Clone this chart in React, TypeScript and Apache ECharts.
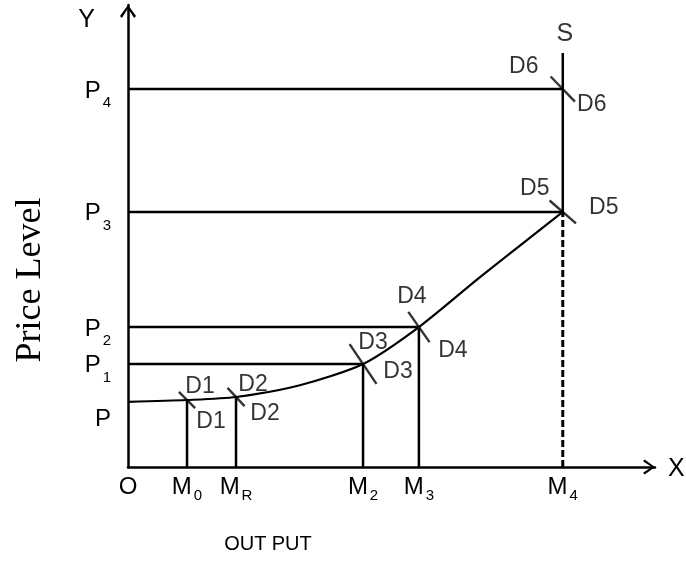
import React, { useEffect, useRef } from 'react';
import * as echarts from 'echarts';

// ---- data (axis units: x 0..100 output, y 0..100 price level) ----
const outputLabels = ['O', 'M0', 'MR', 'M2', 'M3', 'M4'];
const outputValues = [0, 11.2, 20.5, 44.6, 55.2, 82.5];
const priceLabels = ['P', 'P1', 'P2', 'P3', 'P4'];
const priceValues = [14.1, 22.3, 30.3, 55.2, 81.8];
const curveX = [0, 11.2, 20.5, 32.6, 44.6, 55.2, 66.8, 82.5];
const curveY = [14.1, 14.5, 15.15, 17.7, 22.3, 30.3, 41.1, 55.2];
const demandNames = ['D1', 'D2', 'D3', 'D4', 'D5', 'D6'];
const demandX = [11.2, 20.5, 44.6, 55.2, 82.5, 82.5];
const demandY = [14.5, 15.15, 22.3, 30.3, 55.2, 81.8];
const supplyTop = 89.6;

// ---- styles ----
const tickLen = [23, 25, 48, 37, 35, 35];
const tickAngle = [45, 43, 34, 35, 49, 44];
const labelOffsetA = [[13, -15], [17, -14], [10, -23], [-7, -32], [-28, -25], [-39, -24]];
const labelOffsetB = [[24, 20], [29, 15], [35, 6], [34, 22], [41, -6], [29, 14]];
const FONT = 'Liberation Sans';
const chevron = 'path://M8,0 L16,11 L14.2,12.8 L8,3.5 L1.8,12.8 L0,11 Z';

export default function App() {
  const ref = useRef<HTMLDivElement>(null);
  useEffect(() => {
    if (!ref.current) return;
    const chart = echarts.init(ref.current, null, { renderer: 'svg' });
    const lineBase: any = {
      type: 'line', showSymbol: false, symbol: 'none', silent: true, z: 2,
      lineStyle: { color: '#000', width: 2.5 },
    };
    const horizontals = [2, 3, 4, 5].map((i) => ({
      ...lineBase,
      data: [[0, demandY[i]], [demandX[i], demandY[i]]],
    }));
    const verticals = [0, 1, 2, 3].map((i) => ({
      ...lineBase,
      data: [[demandX[i], 0], [demandX[i], demandY[i]]],
    }));
    const option: any = {
      animation: false,
      textStyle: { fontFamily: FONT, color: '#000' },
      grid: { left: 128, right: 31, top: 5, bottom: 94, containLabel: false, outerBoundsMode: 'none' },
      xAxis: {
        type: 'value', min: 0, max: 100,
        axisLine: {
          show: true, onZero: false,
          lineStyle: { color: '#000', width: 2.5 },
          symbol: ['none', chevron], symbolSize: [18, 12], symbolOffset: [0, -6],
        },
        axisTick: { show: false },
        splitLine: { show: false },
        axisLabel: {
          customValues: outputValues,
          margin: 6,
          formatter: (val: number) => {
            const i = outputValues.findIndex((v) => Math.abs(v - val) < 1e-6);
            const lab = outputLabels[i] ?? '';
            if (lab.length === 1) return `{m|${lab}}`;
            return `{m|${lab[0]}}{s|${lab.slice(1)}}`;
          },
          rich: {
            m: { fontSize: 24, lineHeight: 24, padding: [0, 0, 6, 0], verticalAlign: 'top', fontFamily: FONT, color: '#000' },
            s: { fontSize: 15, lineHeight: 15, padding: [14, 0, 0, 2], verticalAlign: 'top', fontFamily: FONT, color: '#000' },
          },
        },
        name: 'X', nameLocation: 'end', nameGap: 13,
        nameTextStyle: { fontSize: 25, fontFamily: FONT, color: '#000', padding: [6, 0, 0, 0] },
      },
      yAxis: {
        type: 'value', min: 0, max: 100,
        axisLine: {
          show: true, onZero: false,
          lineStyle: { color: '#000', width: 2.5 },
          symbol: ['none', chevron], symbolSize: [16, 13], symbolOffset: [0, -6.5],
        },
        axisTick: { show: false },
        splitLine: { show: false },
        axisLabel: {
          customValues: priceValues,
          margin: 17,
          formatter: (val: number) => {
            const i = priceValues.findIndex((v) => Math.abs(v - val) < 1e-6);
            const lab = priceLabels[i] ?? '';
            if (lab.length === 1) return `{pp|${lab}}`;
            return `{p|${lab[0]}}{s|${lab.slice(1)}}`;
          },
          rich: {
            p: { fontSize: 24, lineHeight: 24, padding: [0, 0, 14, 0], verticalAlign: 'top', fontFamily: FONT, color: '#000' },
            pp: { fontSize: 24, lineHeight: 24, padding: [16, 0, 0, 0], verticalAlign: 'top', fontFamily: FONT, color: '#000' },
            s: { fontSize: 15, lineHeight: 15, padding: [17, 0, 6, 2], verticalAlign: 'top', fontFamily: FONT, color: '#000' },
          },
        },
        name: 'Y', nameLocation: 'end', nameGap: -25,
        nameTextStyle: { fontSize: 25, fontFamily: FONT, color: '#000', padding: [0, 83, 0, 0] },
      },
      graphic: [
        {
          type: 'text', x: 268, y: 543,
          style: { text: 'OUT PUT', font: `20px "${FONT}"`, fill: '#000', align: 'center', verticalAlign: 'middle', textAlign: 'center', textVerticalAlign: 'middle' },
        },
        {
          type: 'text', x: 28, y: 280, rotation: Math.PI / 2,
          style: { text: 'Price Level', font: '36px "Liberation Serif"', fill: '#000', align: 'center', verticalAlign: 'middle', textAlign: 'center', textVerticalAlign: 'middle' },
        },
      ],
      series: [
        {
          ...lineBase, name: 'curve', smooth: 0.25,
          lineStyle: { color: '#000', width: 2.2 },
          data: curveX.map((x, i) => [x, curveY[i]]),
        },
        ...horizontals,
        ...verticals,
        {
          ...lineBase,
          lineStyle: { color: '#000', width: 3, type: [7, 3] },
          data: [[demandX[4], 0], [demandX[4], demandY[4]]],
        },
        {
          ...lineBase,
          data: [[demandX[4], demandY[4]], [demandX[4], supplyTop]],
        },
        {
          type: 'scatter', z: 5, silent: true,
          itemStyle: { color: '#000' },
          label: { show: true, color: '#000', fontSize: 23, fontFamily: FONT, position: 'inside' },
          data: demandX.map((x, i) => ({
            value: [x, demandY[i]],
            symbol: 'rect',
            symbolSize: [2.4, tickLen[i]],
            symbolRotate: tickAngle[i],
            label: { show: true, formatter: demandNames[i], offset: labelOffsetA[i], position: 'inside', color: '#000' },
          })),
        },
        {
          type: 'scatter', z: 5, silent: true,
          itemStyle: { color: 'rgba(0,0,0,0)' },
          symbolSize: 1,
          label: { show: true, color: '#000', fontSize: 23, fontFamily: FONT, position: 'inside' },
          data: demandX.map((x, i) => ({
            value: [x, demandY[i]],
            label: { show: true, formatter: demandNames[i], offset: labelOffsetB[i], position: 'inside', color: '#000' },
          })),
        },
        {
          type: 'scatter', z: 5, silent: true,
          itemStyle: { color: 'rgba(0,0,0,0)' },
          symbolSize: 1,
          data: [{
            value: [demandX[4], supplyTop],
            label: { show: true, formatter: 'S', position: 'inside', offset: [2, -21], color: '#000', fontSize: 25, fontFamily: FONT },
          }],
        },
      ],
    };
    chart.setOption(option);
    return () => chart.dispose();
  }, []);
  return <div ref={ref} style={{ position: 'fixed', left: 0, top: 0, width: 686, height: 561 }} />;
}
